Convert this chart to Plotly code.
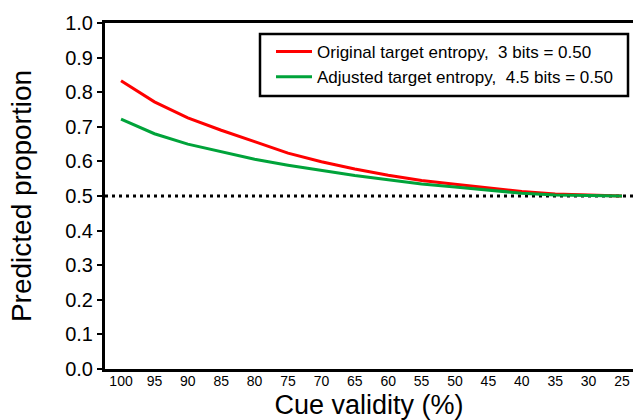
import plotly.graph_objects as go

cue_validity = [100, 95, 90, 85, 80, 75, 70, 65, 60, 55, 50, 45, 40, 35, 30, 25]
original_3bits = [0.833, 0.772, 0.726, 0.690, 0.657, 0.624, 0.599, 0.578, 0.560, 0.545, 0.534, 0.524, 0.513, 0.506, 0.502, 0.500]
adjusted_45bits = [0.722, 0.680, 0.650, 0.628, 0.606, 0.589, 0.573, 0.559, 0.547, 0.535, 0.526, 0.517, 0.508, 0.503, 0.501, 0.500]
chance_level = 0.5
series_names = ["Original target entropy,  3 bits = 0.50", "Adjusted target entropy,  4.5 bits = 0.50"]
y_ticks = [0.0, 0.1, 0.2, 0.3, 0.4, 0.5, 0.6, 0.7, 0.8, 0.9, 1.0]

FONT = "Liberation Sans, Arial, sans-serif"

fig = go.Figure()
fig.add_trace(go.Scatter(x=cue_validity, y=original_3bits, mode="lines", name=series_names[0],
                         line=dict(color="#FF0000", width=3)))
fig.add_trace(go.Scatter(x=cue_validity, y=adjusted_45bits, mode="lines", name=series_names[1],
                         line=dict(color="#00A33A", width=3)))

fig.add_shape(type="line", xref="paper", x0=0, x1=1, yref="y", y0=chance_level, y1=chance_level,
              line=dict(color="black", width=3, dash="3px,4px"), layer="below")

# legend frame
fig.add_shape(type="rect", xref="paper", yref="paper",
              x0=(260 - 105) / 528, x1=(628 - 105) / 528,
              y0=(369 - 96) / 346, y1=(369 - 34) / 346,
              line=dict(color="black", width=2.5), fillcolor="white", layer="above")

fig.update_layout(
    width=633, height=420,
    margin=dict(l=105, r=0, t=23, b=51),
    paper_bgcolor="white", plot_bgcolor="white",
    font=dict(family=FONT, color="black"),
    showlegend=True,
    legend=dict(x=(271 - 105) / 528, y=(369 - 34) / 346, xanchor="left", yanchor="top",
                borderwidth=0, bgcolor="rgba(0,0,0,0)",
                font=dict(size=17, family=FONT), tracegroupgap=0,
                itemwidth=36),
    xaxis=dict(range=[102.4, 23.35], tickvals=cue_validity, ticktext=[str(v) for v in cue_validity],
               showgrid=False, zeroline=False, showline=True, linecolor="black", linewidth=3,
               mirror=True, ticks="", tickfont=dict(size=14), ticklabelstandoff=-3,
               title=dict(text="Cue validity (%)", font=dict(size=27), standoff=11)),
    yaxis=dict(range=[0, 1.0], tickvals=y_ticks, ticktext=[f"{v:.1f}" for v in y_ticks],
               showgrid=False, zeroline=False, showline=True, linecolor="black", linewidth=3,
               ticks="outside", ticklen=5, tickwidth=2, tickcolor="black", tickfont=dict(size=20),
               title=dict(text="Predicted proportion", font=dict(size=28), standoff=26)),
)

fig.write_html("out.html")
